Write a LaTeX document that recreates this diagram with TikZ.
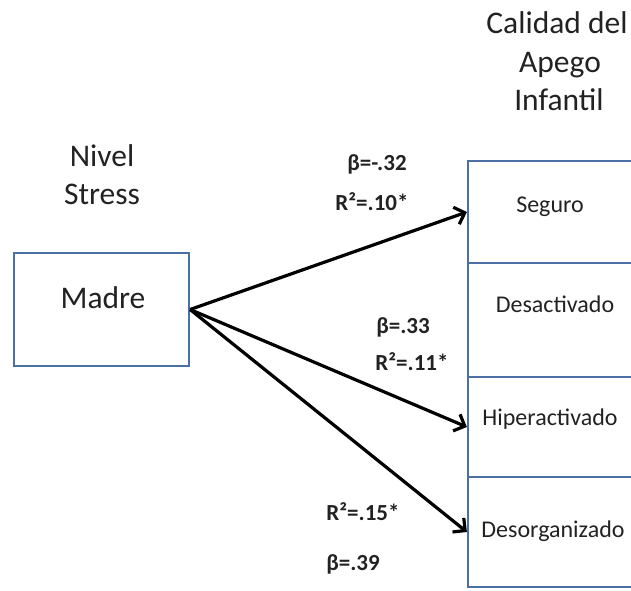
\documentclass[tikz,border=0pt]{standalone}
\usepackage{fontspec}
\setmainfont{Carlito}
\usetikzlibrary{arrows.meta}
\definecolor{boxblue}{HTML}{4A70A6}
\definecolor{ink}{HTML}{222222}
\tikzset{
  box/.style={draw=boxblue, line width=2.2pt, rectangle, inner sep=0pt},
  big/.style={font=\fontsize{31.5}{38}\selectfont, text=ink, inner sep=0pt, align=center},
  cell/.style={font=\fontsize{24}{29}\selectfont, text=ink, inner sep=0pt, anchor=base},
  stat/.style={font=\fontsize{23}{27}\selectfont\bfseries, text=ink, inner sep=0pt, anchor=base},
  link/.style={line width=3.2pt, -{Straight Barb[length=9pt,width=18pt]}}
}
\begin{document}
\begin{tikzpicture}[x=1pt,y=-1pt]
\clip (0,0) rectangle (631,590);
% left box
\node[box, minimum width=175pt, minimum height=113pt] (madre) at (101.5,309.5) {};
\node[big, anchor=base] (tmadre) at (103,308) {Madre};
% right cells
\node[box, minimum width=182pt, minimum height=102pt] (seg) at (559,212) {};
\node[box, minimum width=182pt, minimum height=114pt] (des) at (559,320) {};
\node[box, minimum width=182pt, minimum height=100pt] (hip) at (559,427) {};
\node[box, minimum width=182pt, minimum height=110pt] (dso) at (559,532) {};
\node[cell] (tseg) at (550,212) {Seguro};
\node[cell] (tdes) at (555,312) {Desactivado};
\node[cell] (thip) at (550,425) {Hiperactivado};
\node[cell] (tdso) at (553,537) {Desorganizado};
% titles
\node[big, anchor=base] (nivel) at (102,166) {Nivel};
\node[big, anchor=base] (stress) at (102,204) {Stress};
\node[big, anchor=base] (cal1) at (557,33) {Calidad del};
\node[big, anchor=base] (cal2) at (560,72) {Apego};
\node[big, anchor=base] (cal3) at (559,110) {Infantil};
% connectors
\draw[link] (madre.east) -- (seg.west);
\draw[link] (madre.east) -- (hip.west);
\draw[link] (madre.east) -- (dso.west);
% statistics
\node[stat] (b1) at (377,170) {β=-.32};
\node[stat] (r1) at (372,210) {R²=.10*};
\node[stat] (b2) at (403,333) {β=.33};
\node[stat] (r2) at (412,370) {R²=.11*};
\node[stat] (r3) at (363,520) {R²=.15*};
\node[stat] (b3) at (353,570) {β=.39};
\end{tikzpicture}
\end{document}
